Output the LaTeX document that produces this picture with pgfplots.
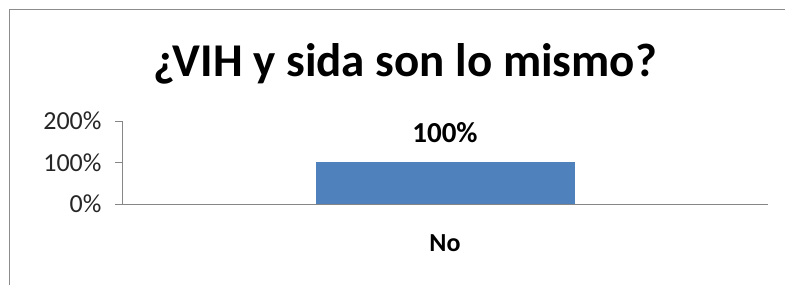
\documentclass[border=0pt]{standalone}
\usepackage{fontspec}
\setmainfont{Carlito}
\usepackage{pgfplots}
\pgfplotsset{compat=1.18}
\definecolor{barblue}{HTML}{4F81BD}
\definecolor{axgray}{HTML}{868686}
\definecolor{framegray}{HTML}{8C8C8C}
\begin{document}
\begin{tikzpicture}
\useasboundingbox (0,0) rectangle (785bp,285bp);
\draw[framegray, line width=1.5bp] (9.5bp,-20bp) -- (9.5bp,275.5bp) -- (820bp,275.5bp);
\begin{axis}[
  at={(122bp,81bp)}, anchor=south west,
  scale only axis, width=646bp, height=83bp,
  xmin=0.5, xmax=1.5, ymin=0, ymax=200,
  axis x line*=bottom, axis y line*=left,
  axis line style={axgray, line width=0.8bp},
  xtick={1}, xticklabels={No},
  x tick style={draw=none},
  extra x ticks={0.5,1.5}, extra x tick labels={},
  extra x tick style={tick style={axgray, line width=0.8bp}, major tick length=8bp, tick align=outside},
  ytick={0,100,200}, yticklabels={0\%,100\%,200\%},
  y tick style={axgray, line width=0.8bp},
  major tick length=7bp, tick align=outside,
  tick label style={font=\fontsize{26bp}{28bp}\selectfont, text=black!85},
  xticklabel style={font=\fontsize{26bp}{28bp}\selectfont\bfseries, yshift=-20bp, text=black},
  yticklabel style={xshift=-10bp},
  /pgf/number format/assume math mode=true,
  title={¿VIH y sida son lo mismo?},
  title style={font=\fontsize{47bp}{50bp}\selectfont\bfseries, at={(rel axis cs:0.438,1)}, anchor=center, yshift=51bp},
  ybar, bar width=258bp,
  nodes near coords={100\%},
  nodes near coords style={font=\fontsize{29bp}{31bp}\selectfont\bfseries, anchor=center, yshift=30bp},
]
\addplot[fill=barblue, draw=barblue] coordinates {(1,100)};
\end{axis}
\end{tikzpicture}
\end{document}
